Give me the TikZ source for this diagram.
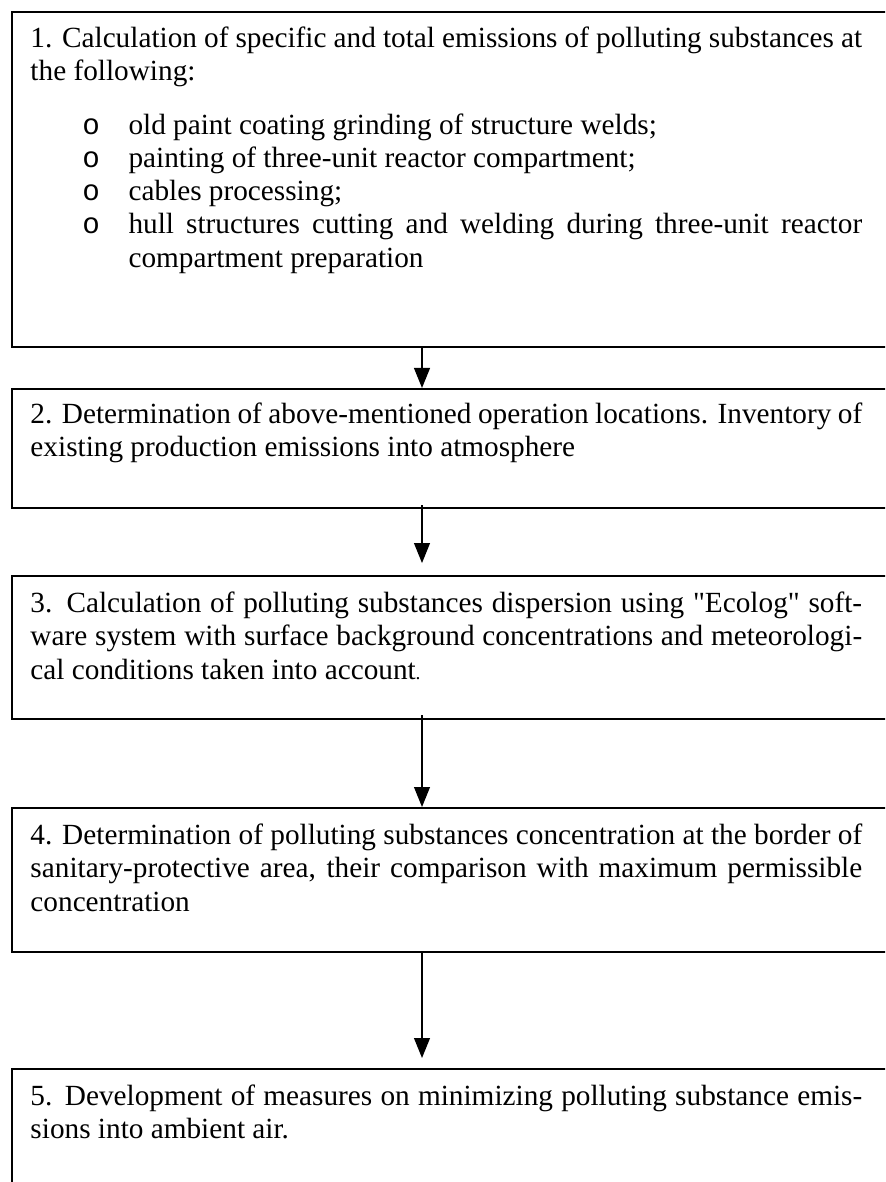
\documentclass[tikz,border=0pt]{standalone}
\usepackage{fontspec}
\setmainfont{Liberation Serif}
\newfontfamily\docfont{Liberation Serif}
\newfontfamily\bulletfont{Liberation Mono}
\usetikzlibrary{arrows.meta}
\tikzset{
  boxframe/.style={draw, line width=0.8pt, anchor=north west, inner sep=0pt, minimum width=380pt},
  boxtext/.style={anchor=north west, inner sep=0pt, text width=341pt, align=justify,
    font=\docfont\fontsize{12pt}{13.65pt}\selectfont},
  flow/.style={line width=0.6pt, -{Triangle[length=8.2pt,width=6.5pt]}},
}
\newcommand{\listitem}[1]{{\hangindent=40.2pt\hangafter=1\noindent\hspace*{21.3pt}\makebox[18.9pt][l]{\bulletfont o}#1\par}}
\begin{document}
\begin{tikzpicture}[x=0.41pt,y=-0.41pt]
\useasboundingbox (0,0) rectangle (885,1182);
\clip (0,0) rectangle (885,1182);
\coordinate (ax) at (422,0);
% frames
\node[boxframe, minimum height=137.5pt] (b1) at (10.7,10.7) {};
\node[boxframe, minimum height=48.8pt] (b2) at (10.7,388) {};
\node[boxframe, minimum height=58.6pt] (b3) at (10.7,575) {};
\node[boxframe, minimum height=59pt] (b4) at (10.7,807) {};
\node[boxframe, minimum height=60pt] (b5) at (10.7,1068) {};
% texts
\node[boxtext] (t1) at (30,23.7) {\strut 1. Calculation of specific and total emissions of polluting substances at the following:\par
\vspace{8.2pt}
\listitem{old paint coating grinding of structure welds;}
\listitem{painting of three-unit reactor compartment;}
\listitem{cables processing;}
\listitem{hull structures cutting and welding during three-unit reactor\linebreak compartment preparation}};
\node[boxtext] (t2) at (30,399.7) {\strut 2. Determination of above-mentioned operation locations. Inventory of\linebreak existing production emissions into atmosphere};
\node[boxtext] (t3) at (30,588.7) {\strut 3. Calculation of polluting substances dispersion using "Ecolog" soft-\linebreak ware system with surface background concentrations and meteorologi-\linebreak cal conditions taken into account{\fontsize{8pt}{8pt}\selectfont .}};
\node[boxtext] (t4) at (30,820.7) {\strut 4. Determination of polluting substances concentration at the border of\linebreak sanitary-protective area, their comparison with maximum permissible\linebreak concentration};
\node[boxtext] (t5) at (30,1081.7) {\strut 5. Development of measures on minimizing polluting substance emis-\linebreak sions into ambient air.};
% connectors
\draw[flow] (b1.south -| ax) -- (b2.north -| ax);
\draw[flow] ([yshift=1.6pt]b2.south -| ax) -- ([yshift=4.9pt]b3.north -| ax);
\draw[flow] ([yshift=2pt]b3.south -| ax) -- (b4.north -| ax);
\draw[flow] (b4.south -| ax) -- ([yshift=4.1pt]b5.north -| ax);
\end{tikzpicture}
\end{document}
